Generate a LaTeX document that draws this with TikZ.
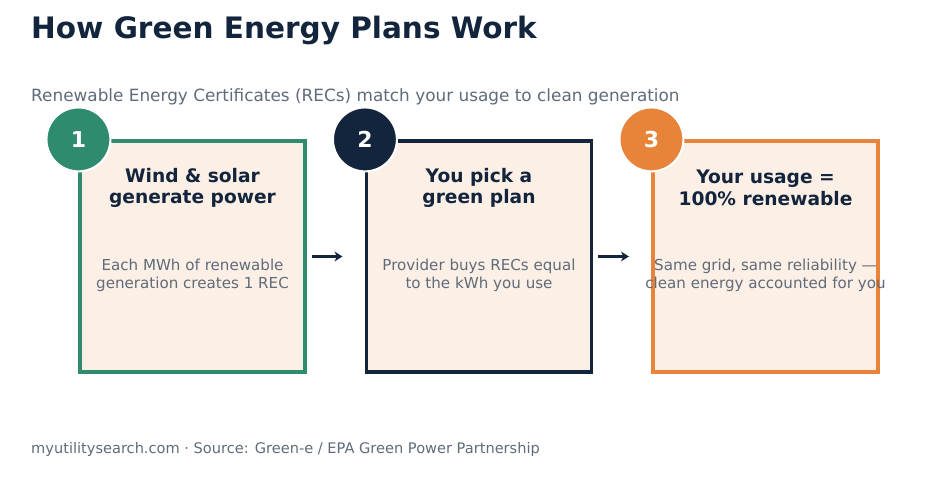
\documentclass[tikz,border=0pt]{standalone}
\usepackage{fontspec}
\setmainfont{DejaVu Sans}
\usetikzlibrary{arrows.meta,positioning}
\definecolor{navy}{HTML}{13253D}
\definecolor{leaf}{HTML}{2E8B6E}
\definecolor{amber}{HTML}{E8833A}
\definecolor{paper}{HTML}{FCEFE5}
\definecolor{slate}{HTML}{5F6B7A}
\tikzset{>={Stealth[width=2mm,length=1.6mm]}}
\tikzset{stage/.style = {draw, fill=paper, line width=1.8pt, rectangle,
                  minimum height=4.62cm, minimum width=4.5cm},
        badge/.style = {circle, draw=white, line width=1.2pt, minimum size=1.28cm,
                  text=white, font=\bfseries\fontsize{12.5}{15}\selectfont},
        head/.style = {text=navy, font=\bfseries\fontsize{10.6}{12.2}\selectfont, align=center},
        body/.style = {text=slate, font=\fontsize{8.6}{10.3}\selectfont, align=center},
        link/.style = {->, draw=navy, line width=1.5pt}
    }
\begin{document}
\begin{tikzpicture}
          \useasboundingbox (0,0) rectangle (19,9.64);
          % heading
          \node[anchor=west, text=navy, font=\bfseries\fontsize{16.8}{20}\selectfont] (title) at (0.5,9.04) {How Green Energy Plans Work};
          \node[anchor=west, text=slate, font=\fontsize{9.6}{12}\selectfont] (sub) at (0.5,7.7) {Renewable Energy Certificates (RECs) match your usage to clean generation};

          % three stages
          \node[stage, draw=leaf] (s1) at (3.85,4.51) {};
          \node[stage, draw=navy] (s2) at (9.58,4.51) {};
          \node[stage, draw=amber] (s3) at (15.31,4.51) {};

          \node[badge, fill=leaf] (b1) at (s1.north west) {1};
          \node[badge, fill=navy] (b2) at (s2.north west) {2};
          \node[badge, fill=amber] (b3) at (s3.north west) {3};

          \node[head] (h1) at (3.85,5.88) {Wind \& solar\\generate power};
          \node[head] (h2) at (9.58,5.88) {You pick a\\green plan};
          \node[head] (h3) at (15.31,5.88) {Your usage =\\100\% renewable};

          \node[body] (t1) at (3.85,4.14) {Each MWh of renewable\\generation creates 1 REC};
          \node[body] (t2) at (9.58,4.14) {Provider buys RECs equal\\to the kWh you use};
          \node[body] (t3) at (15.31,4.14) {Same grid, same reliability —\\clean energy accounted for you};

          \draw[link] ([xshift=0.1cm]s1.east) -- ([xshift=-0.45cm]s2.west);
          \draw[link] ([xshift=0.1cm]s2.east) -- ([xshift=-0.45cm]s3.west);

          % footer
          \node[anchor=west, text=slate, font=\fontsize{8.3}{10}\selectfont] (foot) at (0.5,0.66) {myutilitysearch.com · Source: Green-e / EPA Green Power Partnership};
\end{tikzpicture}
\end{document}
